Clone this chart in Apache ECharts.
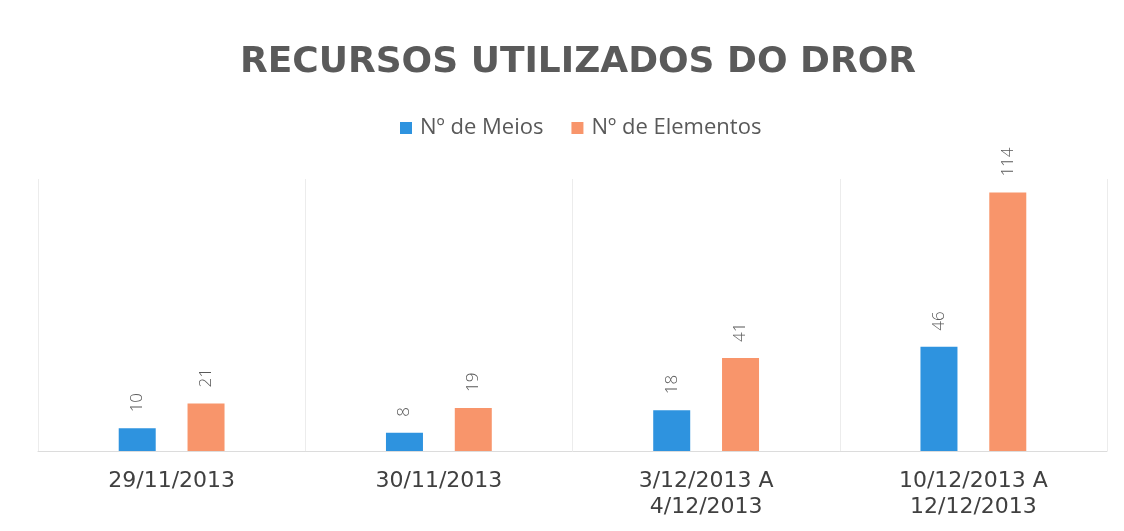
<!DOCTYPE html>
<html>
<head>
<meta charset="utf-8">
<title>Recursos utilizados do DROR</title>
<script src="https://cdn.jsdelivr.net/npm/echarts@6/dist/echarts.min.js"></script>
<style>
  html, body { margin: 0; padding: 0; background: #fff; }
  #main { width: 1124px; height: 531px; }
</style>
</head>
<body>
<div id="main"></div>
<script>
// dados
var categorias = ['29/11/2013', '30/11/2013', '3/12/2013 A\n4/12/2013', '10/12/2013 A\n12/12/2013']
var meios = [10, 8, 18, 46]
var elementos = [21, 19, 41, 114]

var myChart = echarts.init(document.getElementById('main'))

// etiqueta rodada por cima de cada barra
var rotulo = {
  show: true,
  position: 'top',
  rotate: 90,
  align: 'left',
  verticalAlign: 'middle',
  distance: 16,
  color: '#595959',
  fontFamily: 'Open Sans',
  fontSize: 17,
  fontWeight: 300
}

var options = {
  backgroundColor: '#ffffff',
  title: {
    text: 'RECURSOS UTILIZADOS DO DROR',
    left: 573,
    textAlign: 'center',
    top: 40,
    textStyle: {
      fontFamily: 'DejaVu Sans',
      fontSize: 36,
      fontWeight: 'bold',
      color: '#5a5a5a'
    }
  },
  legend: {
    data: ['Nº de Meios', 'Nº de Elementos'],
    top: 112,
    left: 395,
    itemWidth: 12,
    itemHeight: 12,
    itemGap: 28,
    icon: 'rect',
    textStyle: {
      fontFamily: 'Open Sans',
      fontSize: 22,
      color: '#595959',
      padding: [0, 0, 0, 3]
    }
  },
  grid: {
    left: 38,
    right: 17,
    top: 179,
    bottom: 80
  },
  xAxis: {
    type: 'category',
    data: categorias,
    axisTick: { show: false },
    axisLine: { lineStyle: { color: '#dcdcdc', width: 1 } },
    splitLine: { show: true, lineStyle: { color: '#ececec', width: 1 } },
    axisLabel: {
      margin: 17,
      fontFamily: 'DejaVu Sans',
      fontSize: 22,
      lineHeight: 26,
      color: '#404040'
    }
  },
  yAxis: {
    type: 'value',
    min: 0,
    max: 120,
    show: false,
    splitLine: { show: false }
  },
  series: [
    {
      name: 'Nº de Meios',
      type: 'bar',
      data: meios,
      barWidth: 37,
      barGap: '86%',
      itemStyle: { color: '#2e93df' },
      label: rotulo
    },
    {
      name: 'Nº de Elementos',
      type: 'bar',
      data: elementos,
      barWidth: 37,
      itemStyle: { color: '#f8956b' },
      label: rotulo
    }
  ]
}

myChart.setOption(options)
</script>
</body>
</html>
